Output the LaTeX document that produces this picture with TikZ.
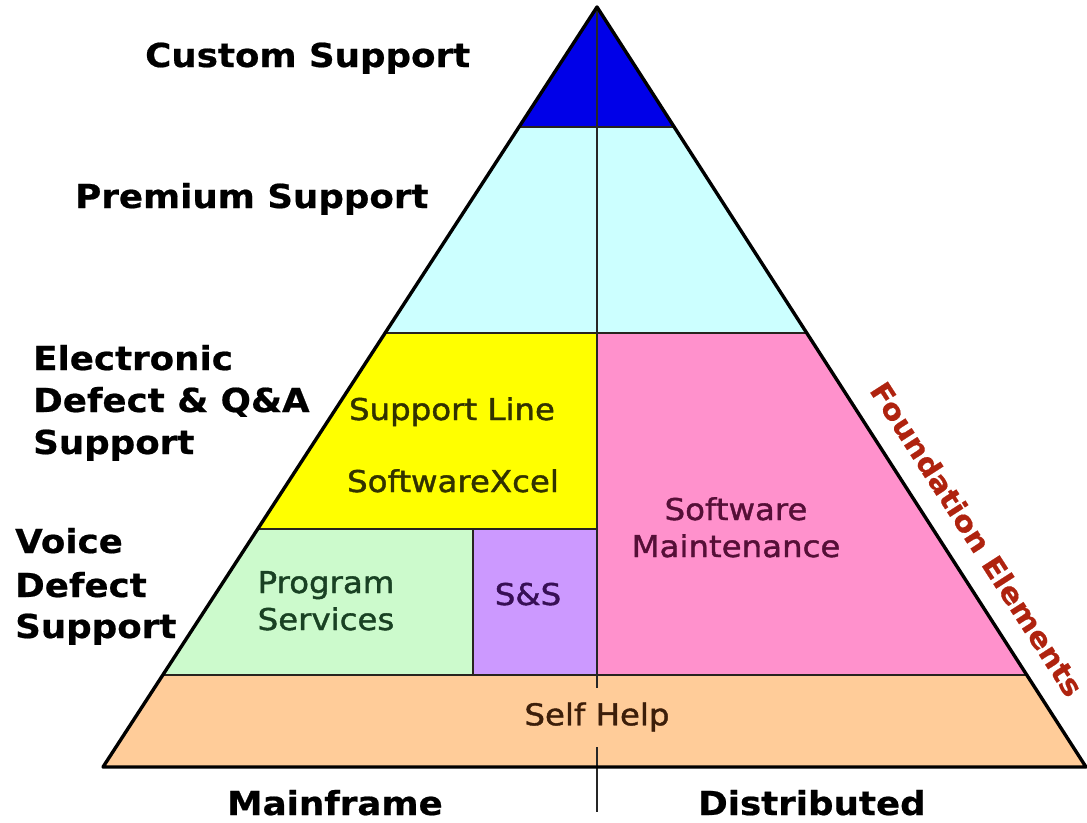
\documentclass[tikz,border=0pt]{standalone}
\usepackage{fontspec}
\setmainfont{DejaVu Sans}[FakeStretch=1.08]
\newfontfamily\labfont{DejaVu Sans}[FakeStretch=1.08, BoldFeatures={FakeBold=0.6}]
\newfontfamily\infont{DejaVu Sans}[FakeStretch=1.08, FakeBold=1.3]
\definecolor{cdblue}{RGB}{0,0,232}
\definecolor{ccyan}{RGB}{204,255,255}
\definecolor{cyellow}{RGB}{255,255,0}
\definecolor{cpink}{RGB}{255,145,204}
\definecolor{cgreen}{RGB}{204,250,204}
\definecolor{cpurple}{RGB}{204,153,255}
\definecolor{corange}{RGB}{255,204,153}
\definecolor{cred}{RGB}{175,35,15}
\definecolor{tyel}{RGB}{50,50,0}
\definecolor{tgrn}{RGB}{25,65,35}
\definecolor{tpur}{RGB}{55,15,85}
\definecolor{tpnk}{RGB}{85,15,55}
\definecolor{torg}{RGB}{60,30,10}
\definecolor{bandline}{RGB}{40,35,30}
\tikzset{
  lab/.style={font=\labfont\fontsize{33}{40}\selectfont\bfseries, anchor=base west, inner sep=0pt},
  intext/.style={font=\infont\fontsize{30}{36}\selectfont, anchor=base, inner sep=0pt},
  band/.style={draw=bandline, line width=1.8pt},
  outline/.style={draw=black, line width=3.4pt, line join=round},
  midline/.style={draw=black!85, line width=1.6pt}
}
\begin{document}
\begin{tikzpicture}[x=1pt,y=-1pt]
\useasboundingbox (0,0) rectangle (1087,822);
\coordinate (apex) at (597,7);
\coordinate (bl) at (103,767);
\coordinate (br) at (1086,767);
\coordinate (midtop) at (597,7);
\coordinate (midbot) at (597,812);
% bands
\begin{scope}
  \clip (apex) -- (bl) -- (br) -- cycle;
  \fill[cdblue] (0,0) rectangle (1087,127);
  \fill[ccyan] (0,127) rectangle (1087,333);
  \fill[cyellow] (0,333) rectangle (597,529);
  \fill[cpink] (597,333) rectangle (1087,675);
  \fill[cgreen] (0,529) rectangle (473,675);
  \fill[cpurple] (473,529) rectangle (597,675);
  \fill[corange] (0,675) rectangle (1087,767);
  \draw[band] (0,127) -- (1087,127);
  \draw[band] (0,333) -- (1087,333);
  \draw[band] (0,529) -- (597,529);
  \draw[band] (0,675) -- (1087,675);
  \draw[band] (473,529) -- (473,675);
\end{scope}
\draw[midline] (midtop) -- (midbot);
\draw[outline] (apex) -- (bl) -- (br) -- cycle;
% inner texts
\node[intext, text=tyel] (supline) at (452,420) {Support Line};
\node[intext, text=tyel] (swx) at (453,492) {SoftwareXcel};
\node[intext, text=tgrn] (prog1) at (326,593) {Program};
\node[intext, text=tgrn] (prog2) at (326,630) {Services};
\node[intext, text=tpur] (ss) at (528,605) {S\&S};
\node[intext, text=tpnk] (sm1) at (736,520) {Software};
\node[intext, text=tpnk] (sm2) at (736,557) {Maintenance};
\node[font=\infont\fontsize{30}{36}\selectfont, text=torg, fill=corange, inner sep=0pt, minimum height=59pt, minimum width=150pt] (self) at (597,717) {Self Help};
% side labels
\node[lab] (custom) at (145,67) {Custom Support};
\node[lab] (premium) at (75,208) {Premium Support};
\node[lab] (el1) at (33,370) {Electronic};
\node[lab] (el2) at (33,412) {Defect \& Q\&A};
\node[lab] (el3) at (33,454) {Support};
\node[lab] (vo1) at (15,553) {Voice};
\node[lab] (vo2) at (15,597) {Defect};
\node[lab] (vo3) at (15,638) {Support};
\node[lab] (mainframe) at (227,815) {Mainframe};
\node[lab] (distributed) at (698,815) {Distributed};
\node[font=\labfont\fontsize{28.5}{34}\selectfont\bfseries, text=cred, inner sep=0pt, rotate=-57.25] (found) at (977,539) {Foundation Elements};
\end{tikzpicture}
\end{document}
